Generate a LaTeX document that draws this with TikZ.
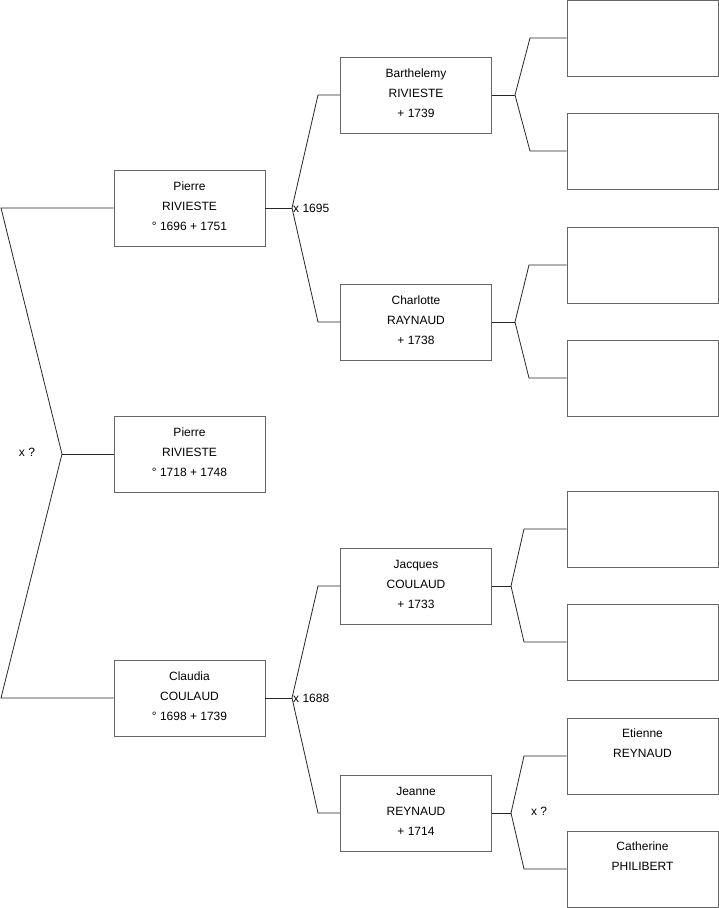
\documentclass[tikz,border=0pt]{standalone}
\usepackage{fontspec}
\setmainfont{Liberation Sans}
\newcommand{\pers}[2][20.5pt]{\parbox[c][76pt][t]{151pt}{\fontsize{12pt}{20pt}\selectfont\centering\rule{0pt}{#1}#2\par}}
\tikzset{
  person/.style={draw=black!60, line width=0.9pt, fill=white, rectangle, inner sep=0pt, minimum width=151pt, minimum height=76pt},
  link/.style={draw=black!85, line width=0.8pt},
  marr/.style={font=\fontsize{12pt}{13pt}\selectfont, inner sep=1pt}
}
\begin{document}
\begin{tikzpicture}[x=1pt,y=-1pt]
\useasboundingbox (0,0) rectangle (719,908);
% generation 1
\node[person] (g1) at (189.5,454) {\pers{Pierre\\RIVIESTE\\° 1718 + 1748}};
% generation 2
\node[person] (p) at (189.5,208) {\pers{Pierre\\RIVIESTE\\° 1696 + 1751}};
\node[person] (m) at (189.5,698) {\pers{Claudia\\COULAUD\\° 1698 + 1739}};
% generation 3
\node[person] (pp) at (416,95) {\pers{Barthelemy\\RIVIESTE\\+ 1739}};
\node[person] (pm) at (416,322) {\pers{Charlotte\\RAYNAUD\\+ 1738}};
\node[person] (mp) at (416,586) {\pers{Jacques\\COULAUD\\+ 1733}};
\node[person] (mm) at (416,813) {\pers{Jeanne\\REYNAUD\\+ 1714}};
% generation 4
\node[person] (ppp) at (642.5,38) {\pers{}};
\node[person] (ppm) at (642.5,151) {\pers{}};
\node[person] (pmp) at (642.5,265) {\pers{}};
\node[person] (pmm) at (642.5,378) {\pers{}};
\node[person] (mpp) at (642.5,529) {\pers{}};
\node[person] (mpm) at (642.5,642) {\pers{}};
\node[person] (mmp) at (642.5,756) {\pers[19pt]{Etienne\\REYNAUD}};
\node[person] (mmm) at (642.5,869) {\pers[19pt]{Catherine\\PHILIBERT}};
% junction coordinates
\coordinate (L1) at (1,208);
\coordinate (L2) at (1,698);
\coordinate (J0) at (62,454);
\coordinate (Jp) at (292,208);
\coordinate (Jpa) at (318,95);
\coordinate (Jpb) at (318,322);
\coordinate (Jm) at (292,698);
\coordinate (Jma) at (318,586);
\coordinate (Jmb) at (318,813);
\coordinate (Jpp) at (515,95);
\coordinate (Jppa) at (530,38);
\coordinate (Jppb) at (530,151);
\coordinate (Jpm) at (515,322);
\coordinate (Jpma) at (529,265);
\coordinate (Jpmb) at (529,378);
\coordinate (Jmp) at (511,586);
\coordinate (Jmpa) at (524,529);
\coordinate (Jmpb) at (524,642);
\coordinate (Jmm) at (511,813);
\coordinate (Jmma) at (524,756);
\coordinate (Jmmb) at (524,869);
% connectors
\draw[link] (p.west) -- (L1) -- (J0) -- (L2) -- (m.west);
\draw[link] (J0) -- (g1.west);
\draw[link] (p.east) -- (Jp);
\draw[link] (pp.west) -- (Jpa) -- (Jp) -- (Jpb) -- (pm.west);
\draw[link] (m.east) -- (Jm);
\draw[link] (mp.west) -- (Jma) -- (Jm) -- (Jmb) -- (mm.west);
\draw[link] (pp.east) -- (Jpp);
\draw[link] (ppp.west) -- (Jppa) -- (Jpp) -- (Jppb) -- (ppm.west);
\draw[link] (pm.east) -- (Jpm);
\draw[link] (pmp.west) -- (Jpma) -- (Jpm) -- (Jpmb) -- (pmm.west);
\draw[link] (mp.east) -- (Jmp);
\draw[link] (mpp.west) -- (Jmpa) -- (Jmp) -- (Jmpb) -- (mpm.west);
\draw[link] (mm.east) -- (Jmm);
\draw[link] (mmp.west) -- (Jmma) -- (Jmm) -- (Jmmb) -- (mmm.west);
% marriage labels
\node[marr] (x0) at (27,452) {x ?};
\node[marr, anchor=west] (xp) at (Jp) {x 1695};
\node[marr, anchor=west] (xm) at (Jm) {x 1688};
\node[marr] (xmm) at (539,811) {x ?};
\end{tikzpicture}
\end{document}
